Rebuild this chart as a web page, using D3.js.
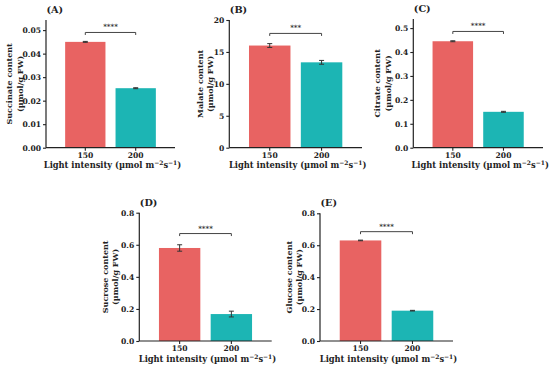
<!DOCTYPE html>
<html><head><meta charset="utf-8">
<script src="https://cdn.jsdelivr.net/npm/d3@7"></script>
<style>
html,body{margin:0;padding:0;background:#fff;}
svg text{font-family:"DejaVu Serif",serif;font-weight:700;fill:#222;}
</style></head>
<body><svg id="c" width="550" height="369"></svg>
<script>
const categories = ["150", "200"];
const panelLabels = ["(A)", "(B)", "(C)", "(D)", "(E)"];
const yTitles = [
  ["Succinate content", "(µmol/g FW)"],
  ["Malate content", "(µmol/g FW)"],
  ["Citrate content", "(µmol/g FW)"],
  ["Sucrose content", "(µmol/g FW)"],
  ["Glucose content", "(µmol/g FW)"]
];
const means = [[0.045, 0.0253], [16.0, 13.37], [0.445, 0.15], [0.58, 0.168], [0.63, 0.19]];
const errors = [[0.0002, 0.0002], [0.3, 0.3], [0.002, 0.002], [0.02, 0.018], [0.002, 0.002]];
const yMax = [0.0543, 20, 0.538, 0.8, 0.8];
const yTicks = [
  [0, 0.01, 0.02, 0.03, 0.04, 0.05],
  [0, 5, 10, 15, 20],
  [0, 0.1, 0.2, 0.3, 0.4, 0.5],
  [0, 0.2, 0.4, 0.6, 0.8],
  [0, 0.2, 0.4, 0.6, 0.8]
];
const tickFormats = [".2f", "d", ".1f", ".1f", ".1f"];
const sigStars = ["****", "***", "****", "****", "****"];
const bracketLevel = [0.049, 17.9, 0.486, 0.67, 0.685];
const xTitleParts = [["Light intensity (µmol m", false], ["−2", true], ["s", false], ["−1", true], [")", false]];

// layout (pixel geometry)
const layout = [
  {x0: 46, x1: 175, yT: 20, yB: 147.7, lab: [-34, -23.5]},
  {x0: 229.3, x1: 362, yT: 20, yB: 147.7, lab: [-26, -16.5]},
  {x0: 413.3, x1: 543, yT: 19, yB: 147.7, lab: [-33, -22]},
  {x0: 139.3, x1: 271.7, yT: 212.7, yB: 341, lab: [-31, -21.5]},
  {x0: 320, x1: 453, yT: 213.3, yB: 341, lab: [-28, -18]}
];
const colors = ["#E86362", "#1CB5B4"];

const svg = d3.select("#c");

layout.forEach((L, i) => {
  const g = svg.append("g");
  const x = d3.scaleBand().domain(categories).range([L.x0, L.x1]).paddingInner(0.2).paddingOuter(0.38);
  const y = d3.scaleLinear().domain([0, yMax[i]]).range([L.yB, L.yT]);

  // bars
  g.selectAll("rect").data(categories).enter().append("rect")
    .attr("x", d => x(d)).attr("width", x.bandwidth())
    .attr("y", (d, j) => y(means[i][j]))
    .attr("height", (d, j) => y(0) - y(means[i][j]))
    .attr("fill", (d, j) => colors[j]);

  // error bars
  categories.forEach((c, j) => {
    const cx = x(c) + x.bandwidth() / 2;
    const hi = y(means[i][j] + errors[i][j]), lo = y(means[i][j] - errors[i][j]);
    const eg = g.append("g").attr("stroke", "#333").attr("stroke-width", 1);
    eg.append("line").attr("x1", cx).attr("x2", cx).attr("y1", hi).attr("y2", lo);
    eg.append("line").attr("x1", cx - 2.5).attr("x2", cx + 2.5).attr("y1", hi).attr("y2", hi);
    eg.append("line").attr("x1", cx - 2.5).attr("x2", cx + 2.5).attr("y1", lo).attr("y2", lo);
  });

  // axes
  const ya = g.append("g").attr("transform", `translate(${L.x0},0)`)
    .call(d3.axisLeft(y).tickValues(yTicks[i]).tickFormat(d3.format(tickFormats[i])).tickSize(3).tickPadding(2));
  const xa = g.append("g").attr("transform", `translate(0,${L.yB})`)
    .call(d3.axisBottom(x).tickSize(3).tickPadding(2));
  [ya, xa].forEach(a => {
    a.select(".domain").attr("stroke", "#222").attr("stroke-width", 1.2);
    a.selectAll(".tick line").attr("stroke", "#222").attr("stroke-width", 1.1);
    a.selectAll("text").attr("font-size", 7.6).attr("fill", "#222");
  });
  ya.select(".domain").attr("d", `M0,${L.yB}V${L.yT}`);
  xa.select(".domain").attr("d", `M${L.x0},0H${L.x1}`);

  // x title
  const xt = g.append("text").attr("x", (L.x0 + L.x1) / 2 + 2).attr("y", L.yB + 20.5)
    .attr("text-anchor", "middle").attr("font-size", 8.3);
  xTitleParts.forEach(([t, sup]) => {
    const ts = xt.append("tspan").text(t);
    if (sup) ts.attr("font-size", 6).attr("dy", -3);
    else if (t !== xTitleParts[0][0]) ts.attr("dy", 3);
  });

  // y title
  const cy = (L.yT + L.yB) / 2;
  yTitles[i].forEach((t, k) => {
    g.append("text").attr("transform", `translate(${L.x0 + L.lab[k]},${cy}) rotate(-90)`)
      .attr("text-anchor", "middle").attr("font-size", 8).text(t);
  });

  // panel label
  g.append("text").attr("x", L.x0 + 0.5).attr("y", L.yT - 7).attr("font-size", 9.7).text(panelLabels[i]);

  // significance bracket
  const bx1 = x(categories[0]) + x.bandwidth() / 2, bx2 = x(categories[1]) + x.bandwidth() / 2;
  const by = y(bracketLevel[i]);
  g.append("path").attr("d", `M${bx1},${by + 2.5}V${by}H${bx2}V${by + 2.5}`)
    .attr("fill", "none").attr("stroke", "#444").attr("stroke-width", 1);
  g.append("text").attr("x", (bx1 + bx2) / 2).attr("y", by - 3).attr("text-anchor", "middle")
    .attr("font-size", 7).attr("fill", "#444").text(sigStars[i]);
});
</script></body></html>
